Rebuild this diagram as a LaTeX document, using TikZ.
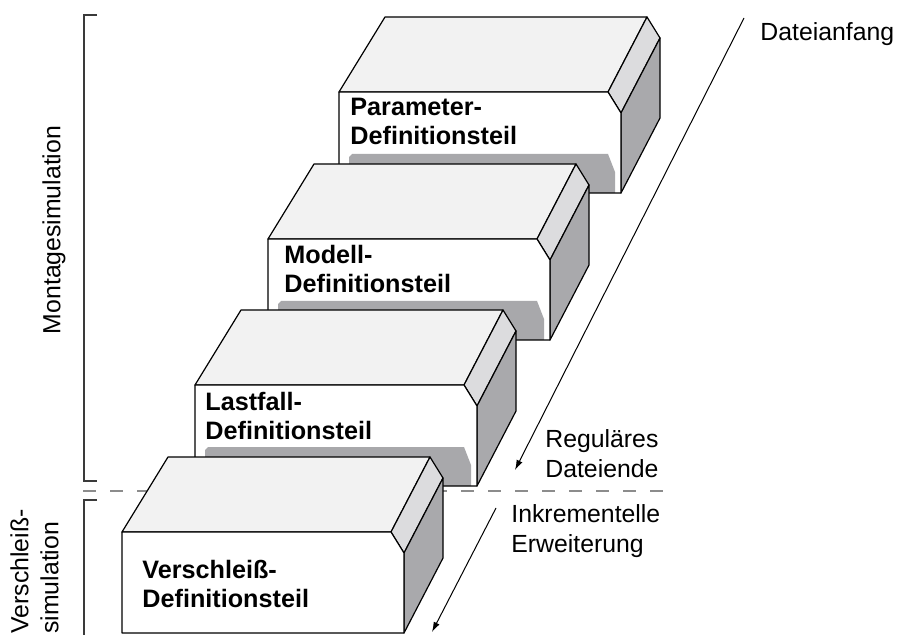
\documentclass[tikz,border=0pt]{standalone}
\usepackage{fontspec}
\setmainfont{Liberation Sans}
\usetikzlibrary{arrows.meta}

\definecolor{deckel}{HTML}{F2F2F2}
\definecolor{fase}{HTML}{DCDCDE}
\definecolor{seite}{HTML}{A9A9AC}
\definecolor{schatten}{HTML}{A8A8AB}
\definecolor{klammer}{HTML}{3A3A3A}
\definecolor{trenn}{HTML}{8C8C8C}

\tikzset{
	kante/.style={draw=black, line width=0.6pt, line join=round},
	etikett/.style={inner sep=0pt, align=left, font=\fontsize{12.6}{14.5}\selectfont\bfseries},
	notiz/.style={inner sep=0pt, align=left, font=\fontsize{12.4}{15}\selectfont},
	pfeil/.style={line width=0.5pt, -{Latex[length=5pt,width=3.2pt]}},
	trennlinie/.style={trenn, line width=0.8pt, dash pattern=on 6.5pt off 7pt},
	klammerlinie/.style={klammer, line width=1.1pt}
}

% #1 Lage der vorderen oberen Ecke, #2 Name, #3 Text, #4 Grundlinie der letzten Zeile, #5 Schatten (1/0)
\newcommand{\quader}[5]{%
	\begin{scope}[shift={#1}]
		\draw[kante, fill=deckel] (0,0) -- (46,-75) -- (308,-75) -- (269,0) -- cycle;
		\draw[kante, fill=fase] (269,0) -- (308,-75) -- (321,-54) -- (282,21) -- cycle;
		\draw[kante, fill=seite] (282,21) -- (321,-54) -- (321,26) -- (282,101) -- cycle;
		\fill[white] (0,0) -- (269,0) -- (282,21) -- (282,101) -- (0,101) -- cycle;
		\ifnum#5=1
			\fill[schatten] (10,65) -- (13,62) -- (269,62) -- (276,80) -- (276,101) -- (10,101) -- cycle;
		\fi
		\draw[kante] (0,0) -- (269,0) -- (282,21) -- (282,101) -- (0,101) -- cycle;
		\node[etikett, anchor=base west] (#2) at #4 {#3};
	\end{scope}}

\begin{document}
\begin{tikzpicture}[x=0.5pt, y=-0.5pt]
	\useasboundingbox (0,0) rectangle (898,635);

	% Trennung Montage / Verschleiss
	\draw[trennlinie] (83,491) -- (668,491);

	% Bausteine der Eingabedatei, von hinten nach vorn
	\quader{(339,92)}{param}{Parameter-\\Definitionsteil}{(11,53)}{1}
	\quader{(268,239)}{modell}{Modell-\\Definitionsteil}{(16,54)}{1}
	\quader{(195,385)}{lastfall}{Lastfall-\\Definitionsteil}{(10,54)}{1}
	\quader{(122,532)}{verschleiss}{Verschleiß-\\Definitionsteil}{(20,75)}{0}

	% Leserichtung
	\coordinate (anfang) at (744,18);
	\coordinate (ende) at (515,470);
	\coordinate (erw-a) at (496,508);
	\coordinate (erw-b) at (432,632);
	\draw[pfeil] (anfang) -- (ende);
	\draw[pfeil] (erw-a) -- (erw-b);

	\node[notiz, anchor=base west] (dateianfang) at (760,41) {Dateianfang};
	\node[notiz, anchor=base west] (dateiende) at (545,477) {Reguläres\\Dateiende};
	\node[notiz, anchor=base west] (erweiterung) at (511,552) {Inkrementelle\\Erweiterung};

	% Klammern links
	\draw[klammerlinie] (97,15) -- (84,15) -- (84,481) -- (97,481);
	\draw[klammerlinie] (97,500) -- (84,500) -- (84,640);
	\node[notiz, rotate=90] (montage) at (54,230) {Montagesimulation};
	\node[notiz, rotate=90, anchor=north west] (verschl) at (10,634) {Verschleiß-\\simulation};
\end{tikzpicture}
\end{document}
